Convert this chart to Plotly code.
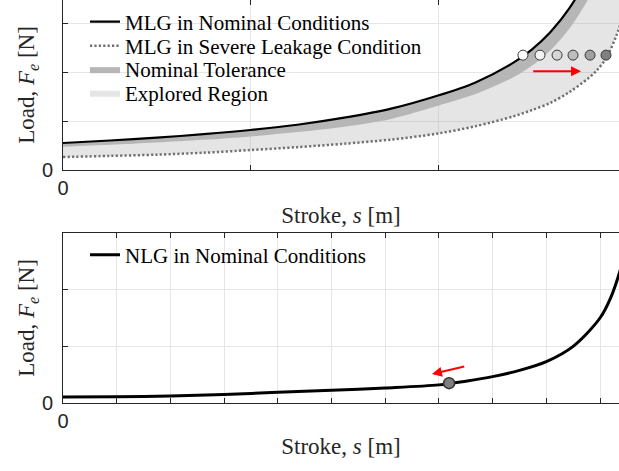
import plotly.graph_objects as go

# ---------------- data: top panel (MLG) ----------------
stroke_mlg = [0, 0.25, 0.5, 0.75, 1.0, 1.25, 1.5, 1.75, 2.0, 2.2, 2.4, 2.5, 2.6, 2.7, 2.8, 2.85, 2.9, 2.95, 3.0]
load_nominal = [0.555, 0.606, 0.665, 0.736, 0.822, 0.93, 1.075, 1.26, 1.53, 1.80, 2.2, 2.475, 2.837, 3.32, 4.0, 4.5, 5.0, 5.5, 6.0]
load_tol_low = [0.48, 0.52, 0.565, 0.62, 0.69, 0.78, 0.89, 1.05, 1.32, 1.56, 1.9, 2.14, 2.46, 2.9, 3.5, 3.9, 4.4, 4.9, 5.4]
load_severe = [0.267, 0.29, 0.315, 0.355, 0.41, 0.47, 0.54, 0.625, 0.75, 0.9, 1.1, 1.23, 1.38, 1.6, 1.88, 2.06, 2.32, 2.75, 3.3]

sweep_x = [2.453, 2.544, 2.635, 2.72, 2.811, 2.896]
sweep_y = [2.36, 2.36, 2.36, 2.36, 2.36, 2.36]
sweep_colors = ["#ffffff", "#f2f2f2", "#d6d6d6", "#bdbdbd", "#a0a0a0", "#808080"]
arrow_top = {"tail": (2.50, 2.03), "head": (2.763, 2.03)}

top_ticks = [0, 1, 2, 3]
top_ticktext = ["0", "", "", ""]

# ---------------- data: bottom panel (NLG) ----------------
stroke_nlg = [0, 1, 2, 3, 4, 5, 6, 7, 7.5, 8, 8.5, 9, 9.5, 10, 10.2, 10.4, 10.6]
load_nlg = [0.106, 0.11, 0.125, 0.15, 0.19, 0.225, 0.265, 0.32, 0.385, 0.465, 0.575, 0.73, 1.0, 1.5, 1.86, 2.42, 3.2]
nlg_point_x = [7.19]
nlg_point_y = [0.35]
arrow_bot = {"tail": (7.5, 0.65), "head": (6.87, 0.51)}

bot_xticks = list(range(0, 11))
bot_xticktext = ["0"] + [""] * 10
bot_yticks = [0, 1, 2, 3]
bot_yticktext = ["0", "", "", ""]

# ---------------- figure ----------------
W, H = 619, 471
ML, MB = 63, 68
PH = H - MB
serif = "Liberation Serif"
sans = "Liberation Sans"
axcol = "#262626"

def py2paper(py):
    return (PH - py) / PH

fig = go.Figure()
SM = 0.9

# Explored region (between severe and nominal)
fig.add_trace(go.Scatter(x=stroke_mlg, y=load_severe, mode="lines", line=dict(width=0, shape="spline", smoothing=SM),
                         showlegend=False, hoverinfo="skip", xaxis="x", yaxis="y"))
fig.add_trace(go.Scatter(x=stroke_mlg, y=load_nominal, mode="lines", line=dict(width=0, shape="spline", smoothing=SM),
                         fill="tonexty", fillcolor="rgba(150,150,150,0.25)",
                         name="Explored Region", legend="legend4", xaxis="x", yaxis="y"))
# Nominal tolerance band
fig.add_trace(go.Scatter(x=stroke_mlg, y=load_tol_low, mode="lines", line=dict(width=0, shape="spline", smoothing=SM),
                         showlegend=False, hoverinfo="skip", xaxis="x", yaxis="y"))
fig.add_trace(go.Scatter(x=stroke_mlg, y=load_nominal, mode="lines", line=dict(width=0, shape="spline", smoothing=SM),
                         fill="tonexty", fillcolor="#b6b6b6",
                         name="Nominal Tolerance", legend="legend3", xaxis="x", yaxis="y"))
# Lines
fig.add_trace(go.Scatter(x=stroke_mlg, y=load_nominal, mode="lines",
                         line=dict(color="black", width=2.2, shape="spline", smoothing=SM),
                         name="MLG in Nominal Conditions", legend="legend", xaxis="x", yaxis="y"))
fig.add_trace(go.Scatter(x=stroke_mlg, y=load_severe, mode="lines",
                         line=dict(color="#707070", width=2.5, dash="2.2px,2.2px", shape="spline", smoothing=SM),
                         name="MLG in Severe Leakage Condition", legend="legend2", xaxis="x", yaxis="y"))
fig.add_trace(go.Scatter(x=sweep_x, y=sweep_y, mode="markers",
                         marker=dict(size=10, color=sweep_colors, line=dict(color="#3a3a3a", width=1)),
                         showlegend=False, xaxis="x", yaxis="y"))

# Bottom panel
fig.add_trace(go.Scatter(x=stroke_nlg, y=load_nlg, mode="lines",
                         line=dict(color="black", width=3, shape="spline", smoothing=SM),
                         name="NLG in Nominal Conditions", legend="legend5", xaxis="x2", yaxis="y2"))
fig.add_trace(go.Scatter(x=nlg_point_x, y=nlg_point_y, mode="markers",
                         marker=dict(size=11, color="#7f7f7f", line=dict(color="#333333", width=1.5)),
                         showlegend=False, xaxis="x2", yaxis="y2"))
# dummy for top-edge tick axis
fig.add_trace(go.Scatter(x=[None], y=[None], showlegend=False, xaxis="x3", yaxis="y", hoverinfo="skip"))

top_dom = [py2paper(170), 1.0]
bot_dom = [0.0, py2paper(233)]

tickfont = dict(family=sans, size=20, color=axcol)
titlefont = dict(family=serif, size=23, color=axcol)
common = dict(showline=True, linecolor=axcol, linewidth=1, ticks="inside", ticklen=5,
              tickcolor=axcol, showgrid=True, gridcolor="#e6e6e6", gridwidth=1,
              zeroline=False, tickfont=tickfont, automargin=False, fixedrange=True)

top_xrange = [0, (W - ML) / 187.5]
top_yrange = [0, 170 / 48.67]
bot_xrange = [0, (W - ML) / 53.7]
bot_yrange = [0, 3]

fig.update_layout(
    width=W, height=H,
    margin=dict(l=ML, r=0, t=0, b=MB, pad=0),
    plot_bgcolor="white", paper_bgcolor="white",
    xaxis=dict(common, domain=[0, 1], anchor="y", range=top_xrange, tickvals=top_ticks, ticktext=top_ticktext,
               ticklabelstandoff=0,
               title=dict(text="Stroke, <i>s</i> [m]", font=titlefont, standoff=8)),
    yaxis=dict(common, domain=top_dom, anchor="x", range=top_yrange, tickvals=top_ticks, ticktext=top_ticktext,
               ticklabelstandoff=5,
               title=dict(text="Load, <i>F<sub>e</sub></i> [N]", font=titlefont, standoff=0)),
    xaxis3=dict(overlaying="x", anchor="y", side="top", range=top_xrange, tickvals=[1, 2],
                ticks="inside", ticklen=5, tickcolor=axcol, showline=False, showgrid=False,
                showticklabels=False, zeroline=False, fixedrange=True),
    xaxis2=dict(common, domain=[0, 1], anchor="y2", range=bot_xrange, tickvals=bot_xticks, ticktext=bot_xticktext,
                mirror="ticks", ticklabelstandoff=0,
                title=dict(text="Stroke, <i>s</i> [m]", font=titlefont, standoff=6)),
    yaxis2=dict(common, domain=bot_dom, anchor="x2", range=bot_yrange, tickvals=bot_yticks, ticktext=bot_yticktext,
                ticklabelstandoff=5,
                title=dict(text="Load, <i>F<sub>e</sub></i> [N]", font=titlefont, standoff=0)),
)

legfont = dict(family=serif, size=21, color="black")
leg_x = (85 - ML) / (W - ML)
def leg(py):
    return dict(x=leg_x, y=py2paper(py), xanchor="left", yanchor="middle", bgcolor="rgba(0,0,0,0)",
                borderwidth=0, font=legfont)
fig.update_layout(legend=leg(22), legend2=leg(46), legend3=leg(69.5), legend4=leg(93), legend5=leg(255))

for arr, xr, yr in [(arrow_top, "x", "y"), (arrow_bot, "x2", "y2")]:
    fig.add_annotation(x=arr["head"][0], y=arr["head"][1], ax=arr["tail"][0], ay=arr["tail"][1],
                       xref=xr, yref=yr, axref=xr, ayref=yr, text="", showarrow=True,
                       arrowhead=2, arrowsize=1, arrowwidth=2, arrowcolor="red")

fig.write_html("out.html")
